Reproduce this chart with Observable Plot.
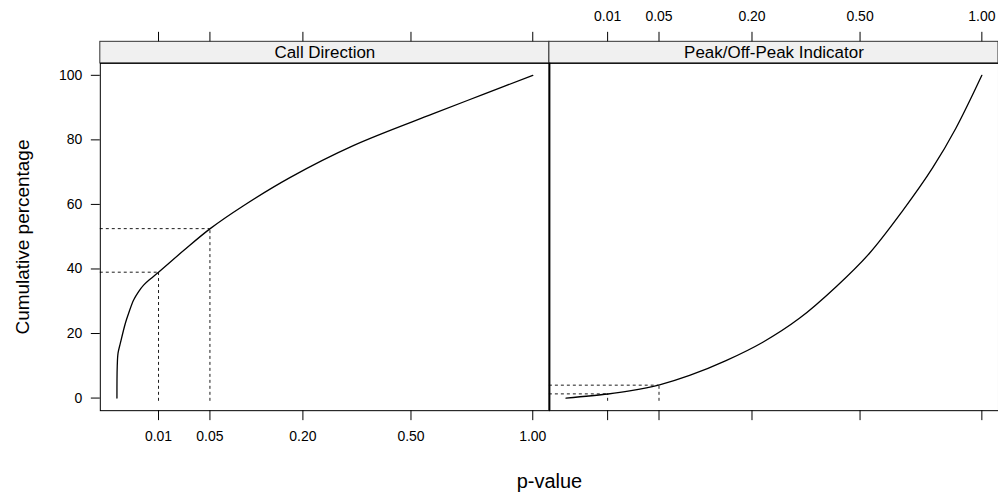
<!DOCTYPE html>
<html>
<head>
<meta charset="utf-8">
<script src="https://cdn.jsdelivr.net/npm/d3@7"></script>
<script src="https://cdn.jsdelivr.net/npm/@observablehq/plot@0.6"></script>
<style>
  html, body { margin: 0; padding: 0; background: #fff; overflow: hidden; }
  #chart svg { display: block; }
</style>
</head>
<body>
<div id="chart"></div>
<script>
// ---- data ----
const panels = ["Call Direction", "Peak/Off-Peak Indicator"];
const xTicks = [0.01, 0.05, 0.2, 0.5, 1];
const xTickLabels = ["0.01", "0.05", "0.20", "0.50", "1.00"];
const yTicks = [0, 20, 40, 60, 80, 100];

const callP   = [0, 0.0000005, 0.000007, 0.000067, 0.00041, 0.00079, 0.00161, 0.00272, 0.00411, 0.00643, 0.01, 0.0257, 0.0503, 0.0926, 0.173, 0.323, 0.579, 0.776, 1.0];
const callPct = [0, 9.8, 13.9, 17.0, 23.2, 26.3, 30.4, 33.0, 35.0, 36.9, 39.0, 45.7, 52.5, 59.6, 68.3, 78.2, 88.1, 94.1, 100];

const peakP   = [0, 0.0102, 0.0234, 0.0506, 0.0883, 0.148, 0.224, 0.315, 0.422, 0.532, 0.655, 0.777, 0.879, 1.0];
const peakPct = [0, 1.26, 2.2, 4.1, 7.0, 11.6, 17.3, 24.7, 34.5, 44.8, 58.0, 71.3, 83.6, 100];

const refP = [0.01, 0.05];
const callRef = [39.0, 52.5];
const peakRef = [1.3, 4.0];

// ---- tables ----
const curveRows = [
  ...callP.map((p, i) => ({panel: panels[0], p, pct: callPct[i]})),
  ...peakP.map((p, i) => ({panel: panels[1], p, pct: peakPct[i]}))
];
const refRows = [
  ...refP.map((p, i) => ({panel: panels[0], p, pct: callRef[i]})),
  ...refP.map((p, i) => ({panel: panels[1], p, pct: peakRef[i]}))
];
const tickRows = panels.flatMap(panel => xTicks.map((p, i) => ({panel, p, label: xTickLabels[i]})));

// ---- layout ----
const W = 1000, H = 501, mL = 100, mR = 0, mT = 63, mB = 90;
const yMin = -3.9, yMax = 103.7;
const k = (H - mT - mB) / (yMax - yMin);        // px per y unit
const stripTop = yMax + 21.6 / k;
const topTickEnd = stripTop + 9.5 / k;
const botTickEnd = yMin - 10 / k;
const sMin = -0.04, sMax = 1.04;
const xMin = -(sMin * sMin), xMax = sMax * sMax;
const xMid = Math.pow((sMin + sMax) / 2, 2);
const font = "'Liberation Sans', Arial, Helvetica, sans-serif";

const chart = Plot.plot({
  width: W, height: H,
  marginLeft: mL, marginRight: mR, marginTop: mT, marginBottom: mB,
  style: {fontFamily: font, fontSize: "14px", color: "#000", background: "#fff"},
  fx: {domain: panels, padding: 0, axis: null, label: null},
  x: {type: "pow", exponent: 0.5, domain: [xMin, xMax], axis: null},
  y: {domain: [yMin, yMax]},
  marks: [
    // strips
    Plot.rect(panels, {fx: d => d, x1: xMin, x2: xMax, y1: yMax, y2: stripTop, fill: "#f0f0f0", stroke: "#333", strokeWidth: 1}),
    Plot.text(panels, {fx: d => d, x: xMid, y: (yMax + stripTop) / 2, text: d => d, fontSize: 17, fill: "#000"}),
    // reference lines
    Plot.ruleY(refRows, {fx: "panel", y: "pct", x1: xMin, x2: "p", stroke: "#000", strokeWidth: 0.9, strokeDasharray: "3,3"}),
    Plot.ruleX(refRows, {fx: "panel", x: "p", y1: -1, y2: "pct", stroke: "#000", strokeWidth: 0.9, strokeDasharray: "3,3"}),
    // curves
    Plot.line(curveRows, {fx: "panel", x: "p", y: "pct", stroke: "#000", strokeWidth: 1.3, curve: "catmull-rom"}),
    // frames
    Plot.frame({stroke: "#000", strokeWidth: 1}),
    Plot.ruleX([xMax], {fx: () => panels[0], stroke: "#000", strokeWidth: 2}),
    // x ticks bottom (both panels), labels left panel only
    Plot.ruleX(tickRows, {fx: "panel", x: "p", y1: yMin, y2: botTickEnd, stroke: "#000"}),
    Plot.text(tickRows.filter(d => d.panel === panels[0]), {fx: "panel", x: "p", y: yMin, dy: 26, text: "label", fontSize: 14, fill: "#000"}),
    // x ticks top (both panels), labels right panel only
    Plot.ruleX(tickRows, {fx: "panel", x: "p", y1: stripTop, y2: topTickEnd, stroke: "#000"}),
    Plot.text(tickRows.filter(d => d.panel === panels[1]), {fx: "panel", x: "p", y: stripTop, dy: -25, text: "label", fontSize: 14, fill: "#000"}),
    // y axis (left panel)
    Plot.axisY({ticks: yTicks, tickSize: 9, tickPadding: 9, fontSize: 14, label: null, stroke: "#000", fill: "#000"}),
    // axis titles
    Plot.text(["Cumulative percentage"], {fx: () => panels[0], frameAnchor: "left", dx: -78, rotate: -90, textAnchor: "middle", fontSize: 19, fill: "#000"}),
    Plot.text(["p-value"], {fx: () => panels[0], frameAnchor: "bottom-right", dy: 77, textAnchor: "middle", fontSize: 20, fill: "#000"})
  ]
});
document.getElementById("chart").appendChild(chart);
</script>
</body>
</html>
